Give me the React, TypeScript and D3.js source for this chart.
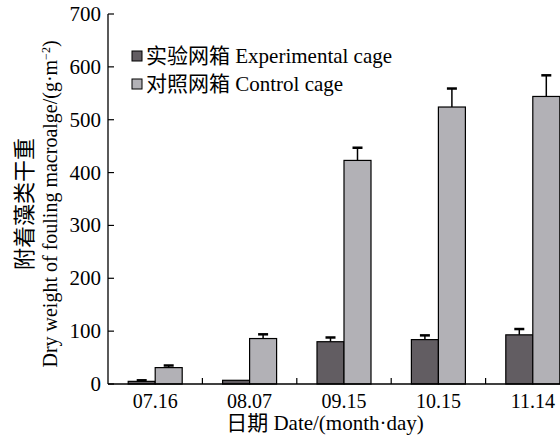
import React, { useEffect, useRef } from 'react';
import * as d3 from 'd3';

const dates = ['07.16', '08.07', '09.15', '10.15', '11.14'];
const experimental = [5, 7, 80, 84, 93];
const experimentalErr = [2, 0, 8, 8, 11];
const control = [31, 86, 423, 524, 544];
const controlErr = [4, 8, 24, 35, 40];
const yTicks = [0, 100, 200, 300, 400, 500, 600, 700];

const serif = '"Liberation Serif", "Times New Roman", "Noto Sans CJK SC", serif';
const darkFill = '#625d62';
const lightFill = '#b2b1b6';

const App = () => {
    const ref = useRef<SVGSVGElement>(null);

    useEffect(() => {
        const svg = d3.select(ref.current);
        svg.selectAll('*').remove();

        const left = 108, right = 580, top = 14, bottom = 384;

        const x = d3.scaleBand().domain(dates).range([left, right]);
        const y = d3.scaleLinear().domain([0, 700]).range([bottom, top]);
        const barW = 27;

        const g = svg.append('g');

        const series = [
            { values: experimental, err: experimentalErr, fill: darkFill, offset: -barW },
            { values: control, err: controlErr, fill: lightFill, offset: 0 },
        ];

        series.forEach(s => {
            dates.forEach((d, i) => {
                const cx = x(d)! + x.bandwidth() / 2;
                const v = s.values[i];
                const e = s.err[i];
                if (e > 0) {
                    const mid = cx + s.offset + barW / 2;
                    g.append('line')
                        .attr('x1', mid).attr('x2', mid)
                        .attr('y1', y(v)).attr('y2', y(v + e))
                        .attr('stroke', '#000').attr('stroke-width', 1.5);
                    g.append('line')
                        .attr('x1', mid - 5).attr('x2', mid + 5)
                        .attr('y1', y(v + e)).attr('y2', y(v + e))
                        .attr('stroke', '#000').attr('stroke-width', 2.5);
                }
                g.append('rect')
                    .attr('x', cx + s.offset)
                    .attr('y', y(v))
                    .attr('width', barW)
                    .attr('height', y(0) - y(v))
                    .attr('fill', s.fill)
                    .attr('stroke', '#000')
                    .attr('stroke-width', 1.2);
            });
        });

        // axes
        g.append('line')
            .attr('x1', left).attr('x2', right)
            .attr('y1', bottom).attr('y2', bottom)
            .attr('stroke', '#000').attr('stroke-width', 1.3);
        g.append('line')
            .attr('x1', left).attr('x2', left)
            .attr('y1', top).attr('y2', bottom)
            .attr('stroke', '#000').attr('stroke-width', 1.3);

        yTicks.forEach(t => {
            g.append('line')
                .attr('x1', left).attr('x2', left + 6)
                .attr('y1', y(t)).attr('y2', y(t))
                .attr('stroke', '#000').attr('stroke-width', 1.2);
            g.append('text')
                .attr('x', left - 7).attr('y', y(t) + 7)
                .attr('text-anchor', 'end')
                .attr('font-family', serif).attr('font-size', 21)
                .text(t);
        });

        dates.forEach((d, i) => {
            if (i > 0) {
                g.append('line')
                    .attr('x1', x(d)!).attr('x2', x(d)!)
                    .attr('y1', bottom).attr('y2', bottom - 6)
                    .attr('stroke', '#000').attr('stroke-width', 1.2);
            }
            g.append('text')
                .attr('x', x(d)! + x.bandwidth() / 2).attr('y', 408)
                .attr('text-anchor', 'middle')
                .attr('font-family', serif).attr('font-size', 20)
                .text(d);
        });

        g.append('text')
            .attr('x', 325).attr('y', 430)
            .attr('text-anchor', 'middle')
            .attr('font-family', serif).attr('font-size', 21)
            .text('日期 Date/(month·day)');

        // y axis title, two lines
        const yt = g.append('text')
            .attr('transform', 'translate(32,204) rotate(-90)')
            .attr('text-anchor', 'middle')
            .attr('font-family', serif).attr('font-size', 20);
        yt.append('tspan').attr('x', 0).attr('y', 0).attr('font-size', 22).text('附着藻类干重');
        const line2 = yt.append('tspan').attr('x', 0).attr('y', 0).attr('dy', 25);
        line2.text('Dry weight of fouling macroalge/(g·m');
        yt.append('tspan').attr('font-size', 12).attr('dy', -7).text('−2');
        yt.append('tspan').attr('dy', 7).text(')');

        // legend
        const legend = [
            { label: '实验网箱 Experimental cage', fill: darkFill },
            { label: '对照网箱 Control cage', fill: lightFill },
        ];
        legend.forEach((l, i) => {
            const ly = 56 + i * 28;
            g.append('rect')
                .attr('x', 132).attr('y', ly - 5)
                .attr('width', 10).attr('height', 10)
                .attr('fill', l.fill).attr('stroke', '#000').attr('stroke-width', 1);
            g.append('text')
                .attr('x', 146).attr('y', ly + 7)
                .attr('font-family', serif).attr('font-size', 21)
                .text(l.label);
        });
    }, []);

    return (
        <svg ref={ref} width={560} height={437}
             style={{ position: 'absolute', left: 0, top: 0, background: '#fff' }} />
    );
};

export default App;
